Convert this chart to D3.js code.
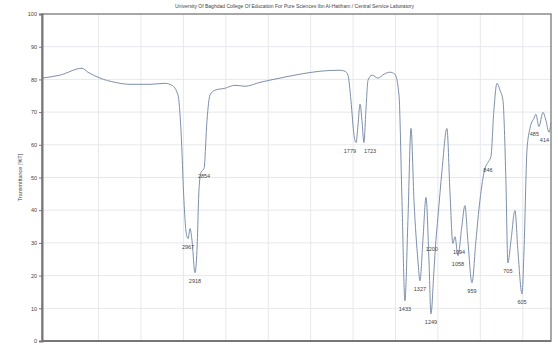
<!DOCTYPE html>
<html>
<head>
<meta charset="utf-8">
<script src="https://cdn.jsdelivr.net/npm/d3@7"></script>
<style>
  body { margin: 0; background: #fff; }
  svg { display: block; font-family: "Liberation Sans", Arial, sans-serif; }
</style>
</head>
<body>
<svg id="chart" width="558" height="345"></svg>
<script>
// spectrum (cm-1, %T)
const wavenumbers = [4000, 3873, 3717, 3675, 3590, 3484, 3378, 3236, 3130, 3081, 3038, 3017, 2996, 2982, 2967, 2953, 2939, 2918, 2904, 2890,
  2876, 2854, 2833, 2812, 2777, 2706, 2635, 2564, 2458, 2317, 2175, 2034, 1893, 1857, 1836, 1815, 1793, 1779, 1765, 1751,
  1737, 1723, 1709, 1694, 1666, 1624, 1581, 1539, 1504, 1475, 1454, 1433, 1412, 1390, 1369, 1341, 1327, 1306, 1284, 1263,
  1249, 1228, 1214, 1200, 1171, 1136, 1115, 1094, 1079, 1058, 1030, 1009, 988, 959, 931, 903, 867, 846, 825, 804,
  782, 761, 740, 719, 705, 683, 655, 634, 605, 591, 570, 549, 521, 507, 485, 457, 436, 414, 400];
const transmittance = [80.4, 81.3, 83.4, 82.2, 80.4, 79.1, 78.5, 78.5, 78.8, 78.2, 75.2, 64.4, 42.9, 33.7, 31.3, 34.4, 30.7, 20.9, 27.6, 46.0,
  51.5, 52.8, 67.5, 75.2, 76.7, 77.3, 78.2, 77.9, 79.1, 80.4, 81.6, 82.5, 82.8, 82.5, 81.3, 73.6, 62.9, 60.7, 66.0, 72.4,
  67.5, 60.7, 70.6, 79.8, 81.3, 80.4, 81.6, 82.2, 81.6, 75.2, 42.9, 12.3, 36.8, 65.0, 42.9, 24.5, 18.4, 30.7, 43.9, 24.5,
  8.3, 21.5, 30.7, 37.7, 52.1, 65.0, 46.0, 29.8, 31.9, 26.1, 35.3, 41.4, 30.7, 17.8, 30.7, 42.9, 52.8, 54.6, 56.4, 70.6,
  78.8, 76.7, 73.6, 49.1, 23.9, 30.7, 39.9, 27.6, 14.4, 27.6, 58.3, 65.0, 68.1, 69.3, 65.6, 69.9, 67.5, 63.8, 66.9];

// picked peaks
const peakWn = [2967, 2918, 2854, 1779, 1723, 1433, 1327, 1249, 1200, 1094, 1058, 959, 846, 705, 605, 485, 414];
const peakT = [31.3, 20.9, 52.8, 60.7, 60.7, 12.3, 18.4, 8.3, 30.7, 29.8, 26.1, 17.8, 54.6, 23.9, 14.4, 65.6, 63.8];
const peakLabels = peakWn.map(String);

const yTicks = [0, 10, 20, 30, 40, 50, 60, 70, 80, 90, 100];
const xGrid = [3600, 3300, 3000, 2700, 2400, 2100, 1800, 1500, 1200, 900, 600];

const title = 'University Of Baghdad College Of Education For Pure Sciences Ibn Al-Haitham / Central Service Laboratory';

const margin = { top: 14, right: 7, bottom: 4, left: 42 };
const W = 558, H = 345;
const width = W - margin.left - margin.right;
const height = H - margin.top - margin.bottom;

const svg = d3.select('#chart');
const g = svg.append('g').attr('transform', `translate(${margin.left},${margin.top})`);

const x = d3.scaleLinear().domain([4000, 400]).range([0, width]);
const y = d3.scaleLinear().domain([0, 100]).range([height, 0]);

// grid
g.append('g').selectAll('line')
  .data(yTicks.slice(1, -1))
  .join('line')
  .attr('x1', 0).attr('x2', width)
  .attr('y1', d => y(d)).attr('y2', d => y(d))
  .attr('stroke', '#e6e8ec').attr('stroke-width', 1);

g.append('g').selectAll('line')
  .data(xGrid)
  .join('line')
  .attr('x1', d => x(d)).attr('x2', d => x(d))
  .attr('y1', 0).attr('y2', height)
  .attr('stroke', '#e6e8ec').attr('stroke-width', 1);

// spectrum
const points = wavenumbers.map((w, i) => [w, transmittance[i]]);
g.append('path')
  .datum(points)
  .attr('fill', 'none')
  .attr('stroke', '#7d90aa')
  .attr('stroke-width', 1)
  .attr('d', d3.line().x(d => x(d[0])).y(d => y(d[1])).curve(d3.curveMonotoneX));

// peak labels - pairs of close peaks at similar depth get pushed apart,
// labels against the right frame are right-aligned
const anchorFor = (i) => {
  const px = x(peakWn[i]);
  if (px > width - 10) return 'end';
  const near = (j) => j >= 0 && j < peakWn.length &&
    Math.abs(x(peakWn[j]) - px) < 16 && Math.abs(y(peakT[j]) - y(peakT[i])) < 8;
  if (near(i + 1)) return 'end';
  if (near(i - 1)) return 'start';
  return 'middle';
};

g.append('g').selectAll('text')
  .data(peakWn)
  .join('text')
  .attr('x', d => x(d))
  .attr('y', (d, i) => y(peakT[i]) + 10)
  .attr('text-anchor', (d, i) => anchorFor(i))
  .style('font-size', '5.5px')
  .attr('fill', '#444')
  .text((d, i) => peakLabels[i]);

// frame
g.append('rect')
  .attr('width', width).attr('height', height)
  .attr('fill', 'none').attr('stroke', '#8a8a8a').attr('stroke-width', 1.5);

// y axis
const yAxis = g.append('g')
  .call(d3.axisLeft(y).tickValues(yTicks).tickSize(3).tickPadding(2));
yAxis.select('.domain').attr('stroke', '#777').attr('stroke-width', 2);
yAxis.selectAll('.tick line').attr('stroke', '#777');
yAxis.selectAll('.tick text').style('font-size', '5.5px').attr('fill', '#444');

// bottom axis line
g.append('line')
  .attr('x1', 0).attr('x2', width)
  .attr('y1', height).attr('y2', height)
  .attr('stroke', '#777').attr('stroke-width', 2);

// labels
svg.append('text')
  .attr('x', margin.left + width / 2 - 2)
  .attr('y', 8)
  .attr('text-anchor', 'middle')
  .style('font-size', '5px')
  .attr('fill', '#444')
  .text(title);

svg.append('text')
  .attr('transform', `translate(22,${margin.top + y(50)}) rotate(-90)`)
  .attr('text-anchor', 'middle')
  .style('font-size', '5.5px')
  .attr('fill', '#444')
  .text('Transmittance [%T]');
</script>
</body>
</html>
